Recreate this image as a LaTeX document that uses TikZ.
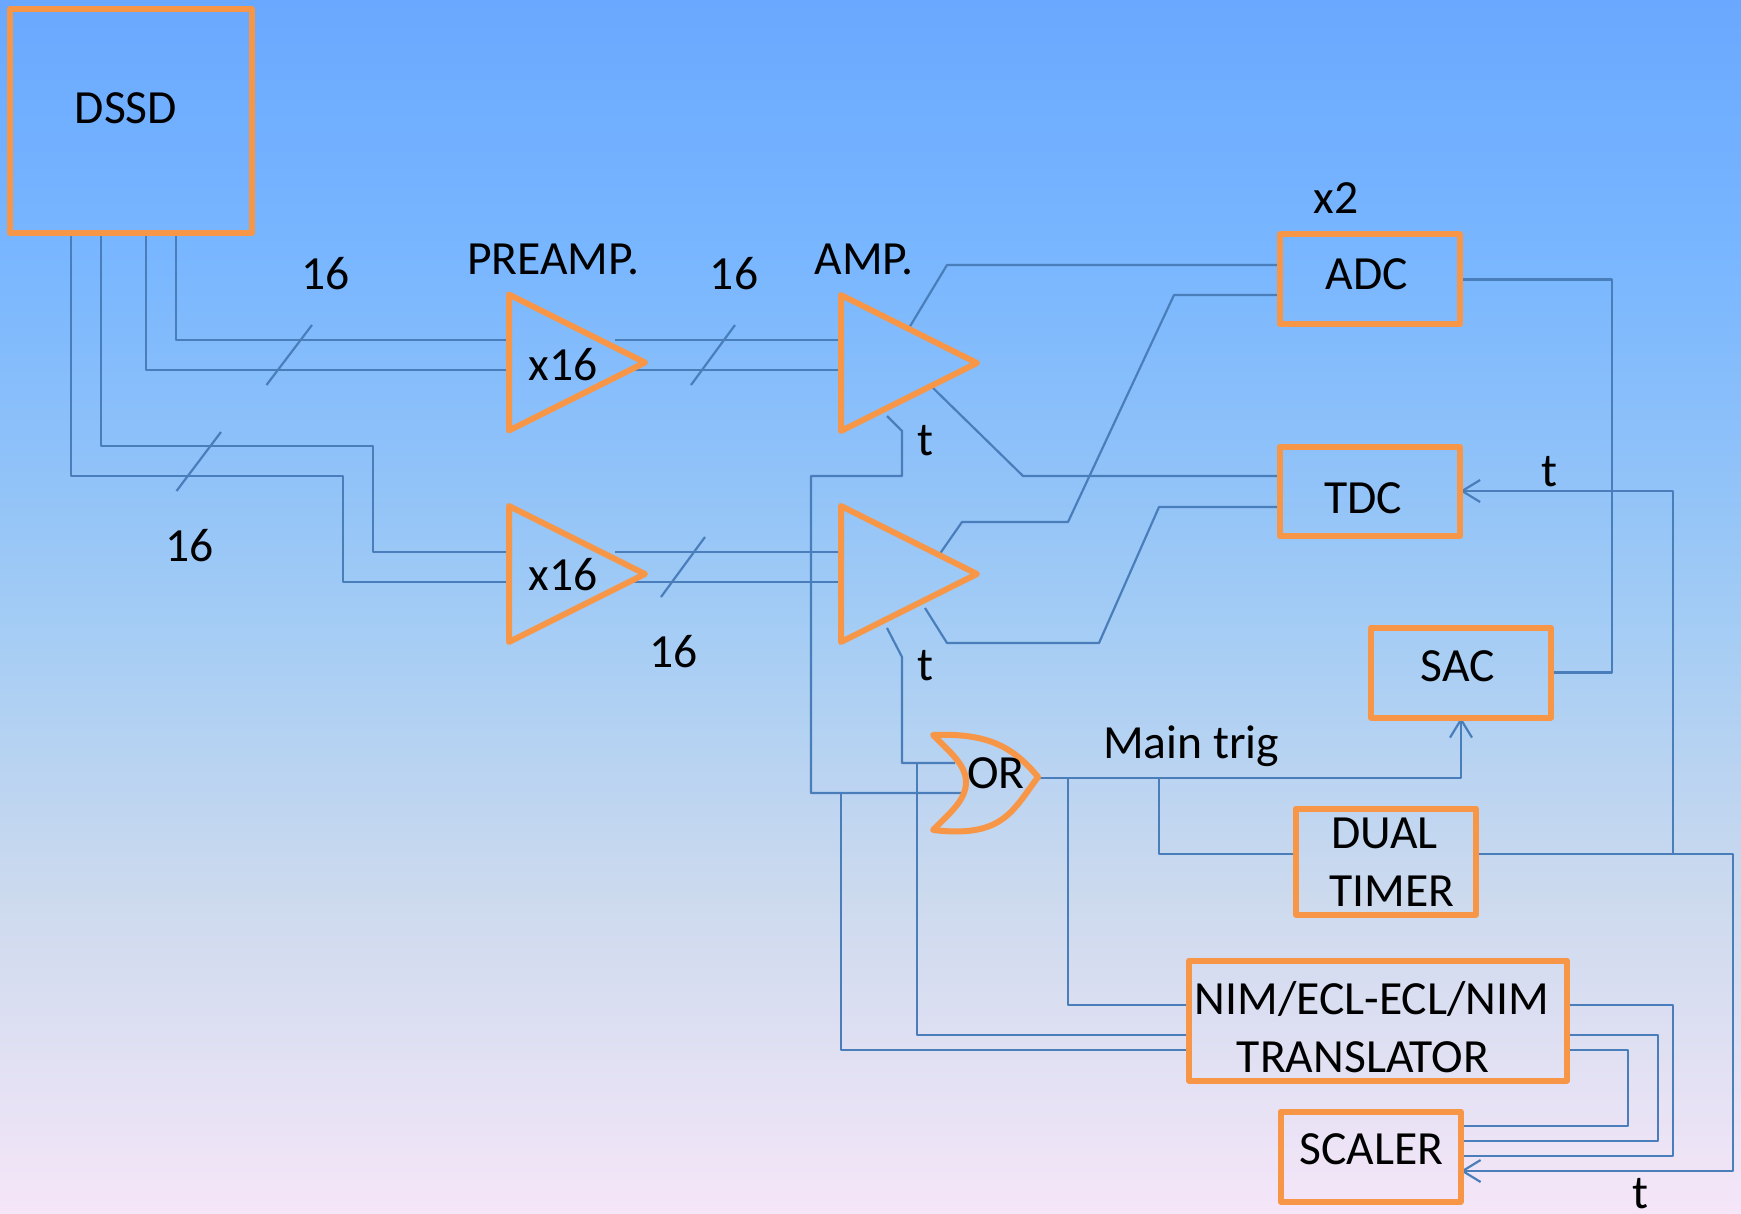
\documentclass[tikz,border=0pt]{standalone}
\usepackage{fontspec}
\setmainfont{Carlito}
\usetikzlibrary{shapes.geometric,arrows.meta}
\definecolor{wirecol}{HTML}{4A7EBB}
\definecolor{boxcol}{HTML}{F79646}
\definecolor{bg0}{HTML}{6AA8FF}
\definecolor{bg1}{HTML}{78B6FF}
\definecolor{bg2}{HTML}{96C5F7}
\definecolor{bg3}{HTML}{A3CCF5}
\definecolor{bg4}{HTML}{CDDAEE}
\definecolor{bg5}{HTML}{F5E6F8}
\pgfdeclareverticalshading{bgfade}{100bp}{color(0bp)=(bg5); color(25bp)=(bg5); color(37.9bp)=(bg4); color(49.5bp)=(bg3); color(53.6bp)=(bg2); color(64.7bp)=(bg1); color(75bp)=(bg0); color(100bp)=(bg0)}
\pgfdeclarelayer{wires}
\pgfsetlayers{wires,main}
% text inside a box: #1 = horizontal shift, #2 = baseline raise from box centre, #3 = text
\newcommand\placed[3]{\raisebox{#2}[0pt][0pt]{\makebox[0pt]{\hspace*{#1}#3}}}
\tikzset{
  wire/.style={draw=wirecol,line width=1.1pt,line join=round},
  pointer/.style={wire,-{Straight Barb[length=9pt,width=11pt,line width=1.1pt]}},
  orange box/.style={draw=boxcol,line width=3pt,line join=round,inner sep=0pt,outer sep=0pt,font=\fontsize{23.8}{28}\selectfont},
  amp tri/.style={orange box,isosceles triangle,isosceles triangle stretches,anchor=apex,minimum width=68pt,minimum height=68pt},
  lbl/.style={anchor=base,inner sep=0pt,outer sep=0pt,text=black,font=\fontsize{23.8}{28}\selectfont},
}
\begin{document}
\begin{tikzpicture}[x=0.5pt,y=-0.5pt]
\useasboundingbox (0,0) rectangle (1741,1214);
\begin{pgfonlayer}{wires}
\shade[shading=bgfade] (0,0) rectangle (1741,1214);
\end{pgfonlayer}

% Boxes
\node[orange box,minimum width=121pt,minimum height=112pt] (dssd) at (131,121) {\placed{-5pt}{-1.5pt}{DSSD}};
\node[orange box,minimum width=90pt,minimum height=45pt] (adc) at (1370,279.5) {\placed{-3pt}{-5.25pt}{ADC}};
\node[orange box,minimum width=90pt,minimum height=44.5pt] (tdc) at (1370,491.5) {\placed{-7pt}{-10.75pt}{TDC}};
\node[orange box,minimum width=90pt,minimum height=45pt] (sac) at (1461,672.5) {\placed{-3pt}{-4.5pt}{SAC}};
\node[orange box,minimum width=90pt,minimum height=53pt] (timer) at (1386,861.5) {\placed{-1.5pt}{6.75pt}{DUAL}\placed{6pt}{-22.25pt}{TIMER}};
\node[orange box,minimum width=189pt,minimum height=60pt] (nim) at (1378,1020.5) {\placed{-6pt}{3.25pt}{NIM/ECL-ECL/NIM}\placed{-15pt}{-25.75pt}{TRANSLATOR}};
\node[orange box,minimum width=90pt,minimum height=45pt] (scaler) at (1370.5,1156.5) {\placed{1pt}{-4pt}{SCALER}};

% Triangles
\node[amp tri] (pre1) at (645,362.5) {};
\node[amp tri] (pre2) at (645,574) {};
\node[amp tri] (amp1) at (977,363) {};
\node[amp tri] (amp2) at (977,574) {};

% OR gate
\coordinate (ortop) at (933,735);
\coordinate (orbot) at (933,830);
\coordinate (ortip) at (1038,777);
\draw[boxcol,line width=3pt,line join=round,line cap=round] (ortop)
  .. controls (985,733) and (1012,745) .. (ortip)
  .. controls (1012,812) and (1002,838) .. (orbot)
  .. controls (950,813) and (966,800) .. (966,782)
  .. controls (966,765) and (950,752) .. (ortop) -- cycle;

% Labels
\node[lbl] (tx1) at (563,380) {x16};
\node[lbl] (tx2) at (563,590) {x16};
\node[lbl] (tor) at (996,788) {OR};
\node[lbl] (tpre) at (553,275) {PREAMP.};
\node[lbl] (tamp) at (864,274.5) {AMP.};
\node[lbl] (tx3) at (1336,214) {x2};
\node[lbl] (n1) at (325.5,290) {16};
\node[lbl] (n2) at (734,290) {16};
\node[lbl] (n3) at (189.5,561) {16};
\node[lbl] (n4) at (673.5,667) {16};
\node[lbl] (t1) at (925,455) {t};
\node[lbl] (t2) at (925,680) {t};
\node[lbl] (t3) at (1549,486) {t};
\node[lbl] (t4) at (1640,1208) {t};
\node[lbl,anchor=base west] (tmain) at (1103,758) {Main trig};

% Free ends and junctions
\coordinate (a1up) at (909,328);
\coordinate (a1dn) at (931,386);
\coordinate (a2up) at (939,555);
\coordinate (a1t) at (887,416);
\coordinate (a2dn) at (925,608);
\coordinate (a2t) at (887,628);
\coordinate (orin1) at (955,763);
\coordinate (orin2) at (962,793);
\coordinate (jtrig1) at (1068,778);
\coordinate (jtrig2) at (1159,778);
\coordinate (jt1) at (917,763);
\coordinate (jt2) at (841,793);
\coordinate (jtime) at (1673,854);
\coordinate (p1o1) at (615,340);
\coordinate (p1o2) at (631,370);
\coordinate (p2o1) at (615,552);
\coordinate (p2o2) at (631,582);

\begin{pgfonlayer}{wires}
% DSSD to preamps
\draw[wire] (dssd.south -| 176,0) |- (pre1.lower side |- 0,340);
\draw[wire] (dssd.south -| 146,0) |- (pre1.lower side |- 0,370);
\draw[wire] (dssd.south -| 101,0) -- (101,446) -- (373,446) -- (373,552) -- (pre2.lower side |- 0,552);
\draw[wire] (dssd.south -| 71,0) -- (71,476) -- (343,476) -- (343,582) -- (pre2.lower side |- 0,582);
% preamps to amps
\draw[wire] (p1o1) -- (amp1.lower side |- p1o1);
\draw[wire] (p1o2) -- (amp1.lower side |- p1o2);
\draw[wire] (p2o1) -- (amp2.lower side |- p2o1);
\draw[wire] (p2o2) -- (amp2.lower side |- p2o2);
% bus slashes
\draw[wire] (266.5,385) -- (312,325);
\draw[wire] (691,385) -- (735,325);
\draw[wire] (176.5,491) -- (221,432);
\draw[wire] (661,597) -- (705,537);
% amps to ADC / TDC
\draw[wire] (a1up) -- (947,265) -- (adc.west |- 0,265);
\draw[wire] (a2up) -- (962,522) -- (1068,522) -- (1174,295) -- (adc.west |- 0,295);
\draw[wire] (a1dn) -- (1023,476) -- (tdc.west |- 0,476);
\draw[wire] (a2dn) -- (947,643) -- (1099,643) -- (1159,507) -- (tdc.west |- 0,507);
% t outputs to OR
\draw[wire] (a1t) -- (902,431) -- (902,476) -- (811,476) -- (811,793) -- (orin2);
\draw[wire] (a2t) -- (902,657) -- (902,763) -- (orin1);
\draw[wire] (jt2) -- (841,1050) -- (nim.west |- 0,1050);
\draw[wire] (jt1) -- (917,1035) -- (nim.west |- 0,1035);
% OR output
\draw[pointer] (ortip |- jtrig1) -- (sac.south |- jtrig1) -- (sac.south);
\draw[wire] (jtrig1) -- (1068,1005) -- (nim.west |- 0,1005);
\draw[wire] (jtrig2) |- (timer.west |- jtime);
% ADC to SAC
\draw[wire] (adc.east) -- (1612,279.5) |- (sac.east);
% timer outputs
\draw[pointer] (timer.east |- jtime) -- (1733,854) -- (1733,1171) -- (scaler.east |- 0,1171);
\draw[pointer] (jtime) -- (1673,491) -- (tdc.east |- 0,491);
% translator to scaler
\draw[wire] (nim.east |- 0,1005) -- (1673,1005) -- (1673,1156) -- (scaler.east |- 0,1156);
\draw[wire] (nim.east |- 0,1035) -- (1658,1035) -- (1658,1141) -- (scaler.east |- 0,1141);
\draw[wire] (nim.east |- 0,1050) -- (1628,1050) -- (1628,1126) -- (scaler.east |- 0,1126);
\end{pgfonlayer}
\end{tikzpicture}
\end{document}
